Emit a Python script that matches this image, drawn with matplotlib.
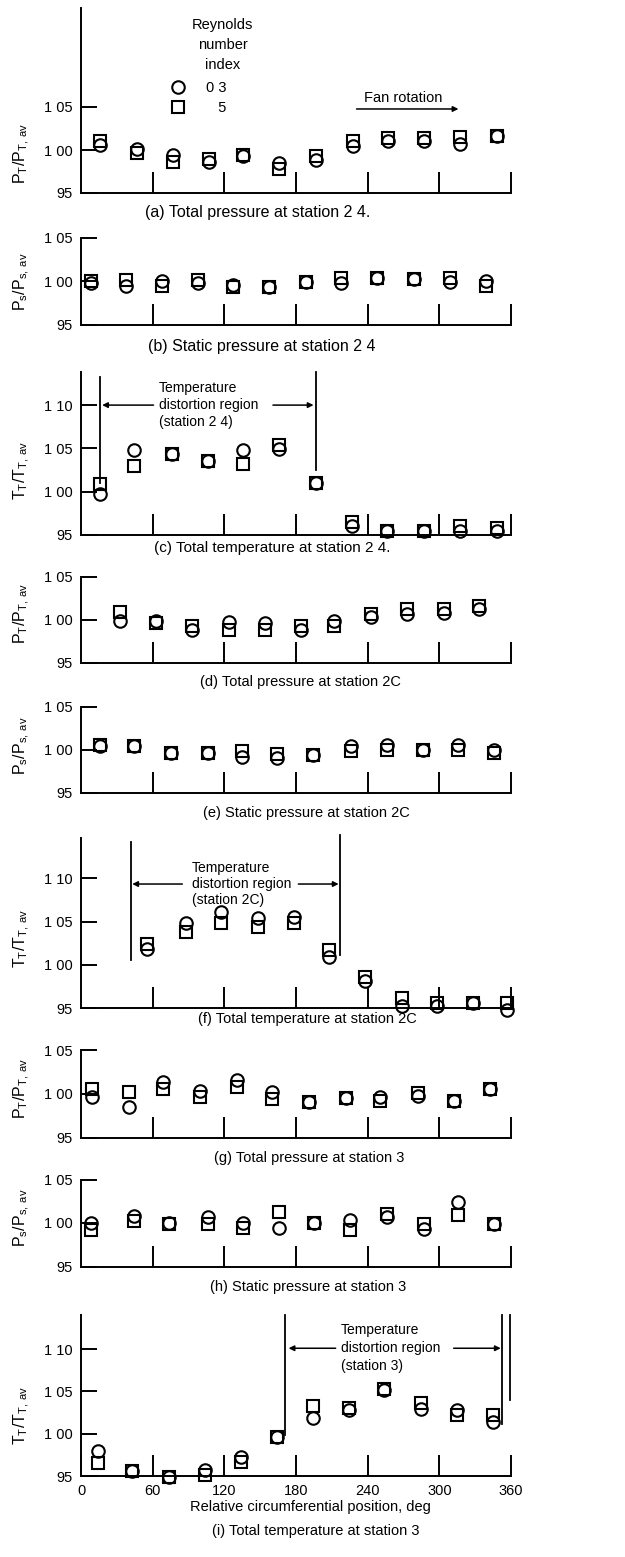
import matplotlib
matplotlib.use('Agg')
import matplotlib.pyplot as plt
from matplotlib import font_manager

# ---------------- fonts ----------------
_names = {f.name for f in font_manager.fontManager.ttflist}
FONT = 'DejaVu Sans'
for cand in ['Liberation Sans', 'Roboto', 'Noto Sans']:
    if cand in _names:
        FONT = cand
        break
plt.rcParams['font.family'] = [FONT, 'DejaVu Sans']
plt.rcParams['mathtext.fontset'] = 'custom'
plt.rcParams['mathtext.rm'] = FONT
plt.rcParams['font.size'] = 10

# ---------------- data ----------------
pos_a = [16, 47, 77, 107, 136, 166, 197, 228, 257, 287, 317, 348]
circ_a = [1.006, 1.001, 0.994, 0.986, 0.993, 0.985, 0.988, 1.005, 1.011, 1.010, 1.007, 1.016]
sq_a = [1.011, 0.997, 0.986, 0.990, 0.994, 0.978, 0.993, 1.011, 1.014, 1.014, 1.015, 1.016]

pos_b = [8, 38, 68, 98, 127, 157, 188, 218, 248, 279, 309, 339]
circ_b = [0.998, 0.995, 1.000, 0.998, 0.9965, 0.994, 0.999, 0.998, 1.004, 1.003, 0.999, 1.000]
sq_b = [1.001, 1.002, 0.995, 1.002, 0.9935, 0.994, 0.999, 1.004, 1.004, 1.003, 1.004, 0.995]

pos_c = [16, 44, 76, 106, 136, 166, 197, 227, 256, 287, 317, 348]
circ_c = [0.997, 1.0485, 1.044, 1.036, 1.048, 1.049, 1.010, 0.960, 0.955, 0.955, 0.955, 0.955]
sq_c = [1.0085, 1.0295, 1.044, 1.036, 1.032, 1.054, 1.010, 0.965, 0.955, 0.955, 0.960, 0.9585]

pos_d = [33, 63, 93, 124, 154, 184, 212, 243, 273, 304, 333]
circ_d = [0.998, 0.999, 0.9875, 0.997, 0.996, 0.9875, 0.998, 1.0027, 1.007, 1.0077, 1.012]
sq_d = [1.0085, 0.996, 0.993, 0.988, 0.9875, 0.993, 0.993, 1.0066, 1.012, 1.012, 1.0155]

pos_e = [16, 44, 75, 106, 135, 164, 194, 226, 256, 286, 316, 346]
circ_e = [1.004, 1.004, 0.996, 0.996, 0.992, 0.990, 0.994, 1.004, 1.006, 1.000, 1.005, 1.000]
sq_e = [1.005, 1.004, 0.996, 0.996, 0.998, 0.9955, 0.994, 0.998, 1.000, 1.000, 1.000, 0.996]

pos_f = [55, 88, 117, 148, 178, 208, 238, 269, 298, 328, 357]
circ_f = [1.019, 1.048, 1.0615, 1.054, 1.0555, 1.0095, 0.981, 0.953, 0.953, 0.956, 0.948]
sq_f = [1.024, 1.0385, 1.048, 1.0435, 1.049, 1.0175, 0.9865, 0.9615, 0.956, 0.956, 0.956]

pos_g = [9, 40, 69, 100, 131, 160, 191, 222, 250, 282, 312, 342]
circ_g = [0.9965, 0.985, 1.0137, 1.0034, 1.0157, 1.0023, 0.991, 0.9947, 0.9958, 0.9973, 0.992, 1.006]
sq_g = [1.005, 1.0023, 1.006, 0.9966, 1.0073, 0.9936, 0.991, 0.9947, 0.992, 1.0011, 0.992, 1.006]

pos_h = [8, 44, 74, 106, 136, 166, 195, 225, 256, 287, 316, 346]
circ_h = [0.9996, 1.008, 1.000, 1.0066, 1.000, 0.9939, 1.000, 1.0034, 1.0066, 0.9931, 1.0245, 0.999]
sq_h = [0.992, 1.0027, 0.999, 0.9989, 0.9939, 1.013, 1.000, 0.992, 1.0103, 0.999, 1.0092, 0.999]

pos_i = [14, 43, 74, 104, 134, 164, 194, 224, 254, 285, 315, 345]
circ_i = [0.9795, 0.956, 0.9487, 0.9574, 0.9723, 0.996, 1.019, 1.0284, 1.052, 1.0295, 1.0275, 1.0137]
sq_i = [0.9653, 0.9555, 0.9487, 0.9507, 0.9665, 0.996, 1.0323, 1.030, 1.053, 1.036, 1.0216, 1.0216]

series_labels = ['0 3', '\u2007 5']
legend_title = 'Reynolds\nnumber\nindex'
x_ticks = [0, 60, 120, 180, 240, 300, 360]
y_ticks_short = [0.95, 1.00, 1.05]
y_ticks_long = [0.95, 1.00, 1.05, 1.10]
y_tick_labels = {0.95: '95', 1.00: '1 00', 1.05: '1 05', 1.10: '1 10'}

PT = r'$\mathregular{P_T/P_{T,\,av}}$'
PS = r'$\mathregular{P_s/P_{s,\,av}}$'
TT = r'$\mathregular{T_T/T_{T,\,av}}$'

# ---------------- layout (pixels) ----------------
W, H = 625, 1557
X0, X1 = 81, 511
fig = plt.figure(figsize=(W / 100, H / 100), dpi=100)
fig.patch.set_facecolor('white')

panels = [
    # key, pos, circ, sq, ylabel, caption, y95px, px per .05, top value, long ticks, caption (x,y,size), ylabel y
    ('a', pos_a, circ_a, sq_a, PT, '(a) Total pressure at station 2 4.', 193, 43.0, 1.165, False, (258, 212, 11.5), 153),
    ('b', pos_b, circ_b, sq_b, PS, '(b) Static pressure at station 2 4', 325, 43.5, 1.05, False, (262, 347, 11.5), 282),
    ('c', pos_c, circ_c, sq_c, TT, '(c) Total temperature at station 2 4.', 535, 43.3, 1.138, True, (272, 548, 11), 470),
    ('d', pos_d, circ_d, sq_d, PT, '(d) Total pressure at station 2C', 662.7, 43.0, 1.05, False, (300, 682, 10.5), 613),
    ('e', pos_e, circ_e, sq_e, PS, '(e) Static pressure at station 2C', 792.7, 43.0, 1.05, False, (306, 813, 10.5), 746),
    ('f', pos_f, circ_f, sq_f, TT, '(f) Total temperature at station 2C', 1008.3, 43.3, 1.1466, True, (307, 1019, 10.5), 938),
    ('g', pos_g, circ_g, sq_g, PT, '(g) Total pressure at station 3', 1137.5, 43.75, 1.05, False, (309, 1158, 10.5), 1088),
    ('h', pos_h, circ_h, sq_h, PS, '(h) Static pressure at station 3', 1266.5, 43.5, 1.05, False, (308, 1287, 10.5), 1218),
    ('i', pos_i, circ_i, sq_i, TT, '(i) Total temperature at station 3', 1476, 42.3, 1.14, True, (316, 1531, 10.5), 1415),
]

LW = 1.4
axes = {}
for key, pos, circ, sq, ylab, cap, y95, ppu, top, long_t, (cx, cy, cs), ly in panels:
    ytop = y95 - (top - 0.95) / 0.05 * ppu
    ax = fig.add_axes([X0 / W, 1 - y95 / H, (X1 - X0) / W, (y95 - ytop) / H])
    ax.set_facecolor('none')
    ax.set_xlim(0, 360)
    ax.set_ylim(0.95, top)
    for s in ['top', 'right']:
        ax.spines[s].set_visible(False)
    for s in ['left', 'bottom']:
        ax.spines[s].set_linewidth(LW)
    yt = y_ticks_long if long_t else y_ticks_short
    ax.set_yticks(yt)
    ax.set_yticklabels([y_tick_labels[v] for v in yt])
    ax.tick_params(axis='y', direction='in', length=11.5, width=LW, pad=6, labelsize=10.5)
    if key == 'i':
        ax.set_xticks(x_ticks)
        ax.set_xticklabels([str(v) for v in x_ticks])
        ax.tick_params(axis='x', direction='in', length=15, width=LW, pad=6, labelsize=10.5)
    else:
        ax.set_xticks(x_ticks[1:])
        ax.set_xticklabels([])
        ax.tick_params(axis='x', direction='in', length=15, width=LW)
    hc, = ax.plot(pos, circ, 'o', mfc='none', mec='black', ms=9, mew=1.5, clip_on=False, zorder=3)
    hs, = ax.plot(pos, sq, 's', mfc='none', mec='black', ms=8.3, mew=1.5, clip_on=False, zorder=3)
    fig.text(cx / W, 1 - cy / H, cap, ha='center', va='center', fontsize=cs)
    fig.text(22 / W, 1 - ly / H, ylab, rotation=90, ha='center', va='center', fontsize=11.5)
    axes[key] = (ax, hc, hs)

# x-axis label (bottom panel)
fig.text(310 / W, 1 - 1507 / H, 'Relative circumferential position, deg', ha='center', va='center', fontsize=10.5)

# ---------------- legend and fan rotation in (a) ----------------
ax, hc, hs = axes['a']
leg = ax.legend([hc, hs], series_labels, loc='center left', bbox_to_anchor=((171 - X0) / (X1 - X0), 0.5135),
                frameon=False, borderpad=0, borderaxespad=0, handlelength=1.0, handletextpad=1.4,
                labelspacing=0.4, numpoints=1, fontsize=10.5)
ax.text(118.5, 1.122, legend_title, ha='center', va='center', linespacing=1.55, fontsize=10.5)
ax.text(269.6, 1.0605, 'Fan rotation', ha='center', va='center', fontsize=10.5)
ax.annotate('', xy=(316, 1.0477), xytext=(230.7, 1.0477),
            arrowprops=dict(arrowstyle='-|>', lw=1.1, color='black', mutation_scale=8, shrinkA=0, shrinkB=0))


# ---------------- temperature distortion regions ----------------
def region(ax, vlines, arrow_y, lhead, ltail, text_x, rtail, rhead, label, ls=1.35):
    for x, y0, y1 in vlines:
        ax.plot([x, x], [y0, y1], color='black', lw=1.3, clip_on=False)
    kw = dict(arrowstyle='-|>', lw=1.1, color='black', mutation_scale=8, shrinkA=0, shrinkB=0)
    ax.annotate('', xy=(lhead, arrow_y), xytext=(ltail, arrow_y), arrowprops=kw, annotation_clip=False)
    ax.annotate('', xy=(rhead, arrow_y), xytext=(rtail, arrow_y), arrowprops=kw, annotation_clip=False)
    ax.text(text_x, arrow_y, label, ha='left', va='center', linespacing=ls, fontsize=10)


region(axes['c'][0], [(15.8, 1.010, 1.133), (197, 1.025, 1.138)], 1.10, 17.7, 60.7, 65, 160.7, 194.7,
       'Temperature\ndistortion region\n(station 2 4)', ls=1.25)
region(axes['f'][0], [(41.5, 1.006, 1.142), (216.8, 1.011, 1.150)], 1.0935, 42.9, 84.8, 93.1, 182.0, 215.7,
       'Temperature\ndistortion region\n(station 2C)', ls=1.15)
region(axes['i'][0], [(171, 0.998, 1.14), (352.7, 1.012, 1.14), (359, 1.04, 1.14)], 1.101, 173.8, 213.2, 217.3,
       312, 351.4, 'Temperature\ndistortion region\n(station 3)', ls=1.35)

fig.savefig('out.png', dpi=100, facecolor='white')
